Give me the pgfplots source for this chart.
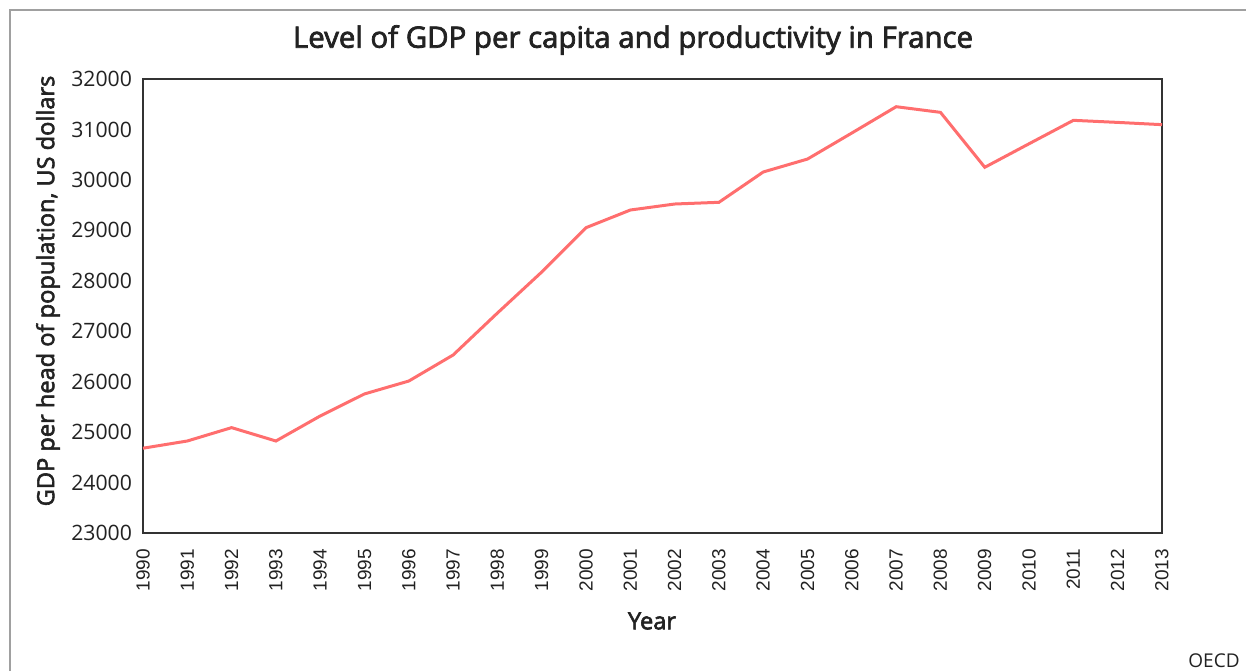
\documentclass[border=0pt]{standalone}
\usepackage{pgfplots}
\pgfplotsset{compat=1.18}
\usepackage{fontspec}
\setmainfont{Open Sans}
\newfontfamily\semib[FakeBold=2.5]{Open Sans}
\newfontfamily\arialfont{Liberation Sans}
\definecolor{linered}{RGB}{255,110,110}
\definecolor{axisgray}{RGB}{51,51,51}
\definecolor{framegray}{RGB}{160,160,160}
\definecolor{txt}{RGB}{34,34,34}
\begin{document}
\begin{tikzpicture}
\begin{axis}[
  at={(71.5pt,69pt)}, anchor=south west,
  scale only axis, width=509.5pt, height=227pt,
  xmin=1990, xmax=2013, ymin=23000, ymax=32000,
  xtick={1990,...,2013}, ytick={23000,24000,...,32000},
  major tick length=0pt,
  axis line style={axisgray, line width=1pt},
  /pgf/number format/assume math mode=true,
  xticklabel style={font=\arialfont\fontsize{9.5pt}{11pt}\selectfont, rotate=90, anchor=east, text=txt},
  xticklabel shift=4.5pt,
  yticklabel style={font=\fontsize{10.6pt}{12pt}\selectfont, text=txt},
  yticklabel shift=2pt,
  xticklabel={\pgfmathprintnumber[precision=0,1000 sep={}]{\tick}},
  yticklabel={\pgfmathprintnumber[precision=0,1000 sep={}]{\tick}},
  xtick pos=bottom, ytick pos=left,
  scaled ticks=false,
  clip=false,
]
\addplot[linered, line width=1.5pt, mark=none] coordinates {
(1990,24681) (1991,24824) (1992,25089) (1993,24824) (1994,25320)
(1995,25757) (1996,26013) (1997,26529) (1998,27361) (1999,28174)
(2000,29053) (2001,29403) (2002,29522) (2003,29556) (2004,30157)
(2005,30414) (2006,30930) (2007,31451) (2008,31339) (2009,30250)
(2010,30717) (2011,31181) (2012,31140) (2013,31095)
};
\end{axis}
\node[text=txt, font=\semib\fontsize{14.7pt}{17pt}\selectfont] at (316.5pt,315.5pt) {Level of GDP per capita and productivity in France};
\node[text=txt, rotate=90, font=\semib\fontsize{11.8pt}{13pt}\selectfont] at (24pt,190pt) {GDP per head of population, US dollars};
\node[text=txt, font=\semib\fontsize{11.8pt}{13pt}\selectfont] at (326pt,25pt) {Year};
\node[text=txt, anchor=east, font=\fontsize{9.5pt}{11pt}\selectfont, inner sep=0pt] at (620pt,5pt) {OECD};
\draw[framegray, line width=0.6pt] (5pt,0pt) -- (5pt,330.5pt) -- (623pt,330.5pt);
\pgfresetboundingbox
\useasboundingbox (0pt,0pt) rectangle (623pt,335.5pt);
\end{tikzpicture}
\end{document}
